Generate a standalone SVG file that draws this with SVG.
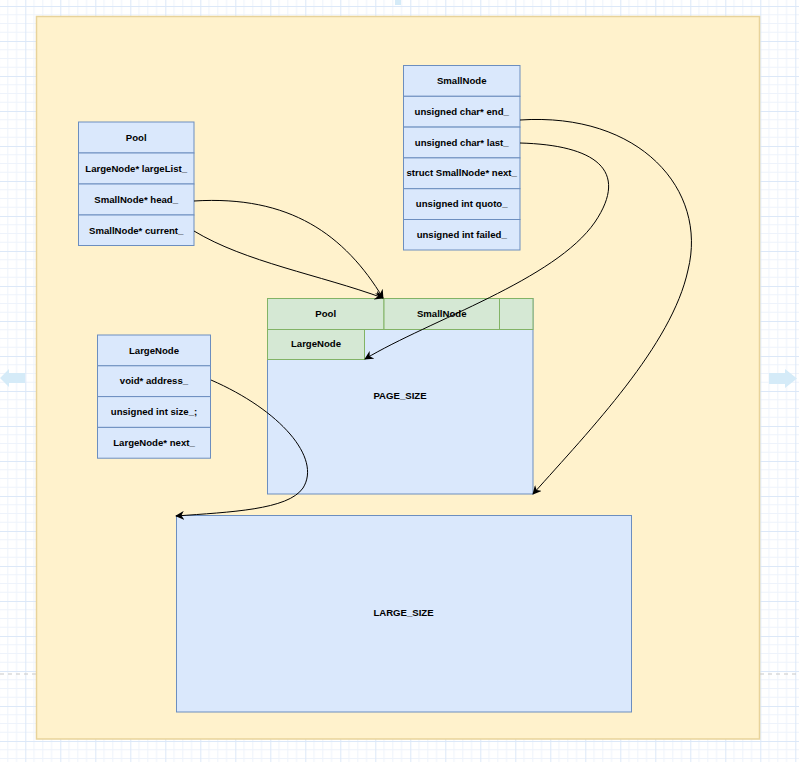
<svg xmlns="http://www.w3.org/2000/svg" width="799" height="762" viewBox="0 0 799 762">
<style>
.t{font-family:"Liberation Sans",Arial,sans-serif;font-size:9.6px;font-weight:bold;fill:#000;text-anchor:middle}
.b{fill:#dae8fc;stroke:#6c8ebf;stroke-width:1}
.g{fill:#d5e8d4;stroke:#82b366;stroke-width:1}
.e{fill:none;stroke:#000;stroke-width:1}
</style>
<defs>
<pattern id="grid" x="25.3" y="6" width="35" height="35" patternUnits="userSpaceOnUse">
<path d="M8.75 0V35M17.5 0V35M26.25 0V35M0 8.75H35M0 17.5H35M0 26.25H35" stroke="#eef3fb" stroke-width="1" fill="none"/>
<path d="M0.5 0V35M0 0.5H35" stroke="#dce8f8" stroke-width="1" fill="none"/>
</pattern>
<marker id="ah" viewBox="0 0 10 10" refX="9" refY="5" markerWidth="9" markerHeight="9" markerUnits="userSpaceOnUse" orient="auto">
<path d="M0 0L10 5L0 10L3 5Z" fill="#000"/>
</marker>
</defs>
<rect width="799" height="762" fill="#fff"/>
<rect width="799" height="762" fill="url(#grid)"/>
<g id="ui">
<path d="M0 674H37M760 674H799" stroke="#c8c8c8" stroke-dasharray="4 4"/>
<path d="M25 373H9V369L0 378L9 387V383H25Z" fill="#d5ebf8"/>
<path d="M769 373H785V369L797 378.5L785 388V384H769Z" fill="#d5ebf8"/>
<rect x="395" y="0" width="6" height="5" fill="#d5ebf8"/>
</g>
<g id="container">
<rect x="36.5" y="16.5" width="723" height="722.5" fill="#fff2cc" stroke="#e8d39a" stroke-width="1.5"/>
</g>
<g id="pool">
<rect class="b" x="78.5" y="122" width="115.5" height="31"/>
<rect class="b" x="78.5" y="153" width="115.5" height="31"/>
<rect class="b" x="78.5" y="184" width="115.5" height="31"/>
<rect class="b" x="78.5" y="215" width="115.5" height="30.5"/>
<text class="t" x="136.2" y="140.5">Pool</text>
<text class="t" x="136.2" y="171.5">LargeNode* largeList_</text>
<text class="t" x="136.2" y="202.5">SmallNode* head_</text>
<text class="t" x="136.2" y="233.5">SmallNode* current_</text>
</g>
<g id="smallnode">
<rect class="b" x="403.5" y="65.5" width="116.5" height="30.8"/>
<rect class="b" x="403.5" y="96.3" width="116.5" height="30.8"/>
<rect class="b" x="403.5" y="127.1" width="116.5" height="30.8"/>
<rect class="b" x="403.5" y="157.9" width="116.5" height="30.8"/>
<rect class="b" x="403.5" y="188.7" width="116.5" height="30.8"/>
<rect class="b" x="403.5" y="219.5" width="116.5" height="30.5"/>
<text class="t" x="461.7" y="84">SmallNode</text>
<text class="t" x="461.7" y="114.8">unsigned char* end_</text>
<text class="t" x="461.7" y="145.6">unsigned char* last_</text>
<text class="t" x="461.7" y="176.4">struct SmallNode* next_</text>
<text class="t" x="461.7" y="207.2">unsigned int quoto_</text>
<text class="t" x="461.7" y="238">unsigned int failed_</text>
</g>
<g id="largenode">
<rect class="b" x="97.5" y="335" width="113" height="30.8"/>
<rect class="b" x="97.5" y="365.8" width="113" height="30.8"/>
<rect class="b" x="97.5" y="396.6" width="113" height="30.8"/>
<rect class="b" x="97.5" y="427.4" width="113" height="30.8"/>
<text class="t" x="154" y="353.5">LargeNode</text>
<text class="t" x="154" y="384.3">void* address_</text>
<text class="t" x="154" y="415.1">unsigned int size_;</text>
<text class="t" x="154" y="445.9">LargeNode* next_</text>
</g>
<g id="page">
<rect class="b" x="267.5" y="298.5" width="265.5" height="195.5"/>
<text class="t" x="400" y="399">PAGE_SIZE</text>
</g>
<g id="page-pool">
<rect class="g" x="267.5" y="298.5" width="116.5" height="31"/>
<text class="t" x="325.7" y="317">Pool</text>
</g>
<g id="page-smallnode">
<rect class="g" x="384" y="298.5" width="115.5" height="31"/>
<text class="t" x="441.7" y="317">SmallNode</text>
</g>
<g id="page-extra">
<rect class="g" x="499.5" y="298.5" width="33.5" height="31"/>
</g>
<g id="page-largenode">
<rect class="g" x="267.5" y="329.5" width="97" height="30"/>
<text class="t" x="316" y="347">LargeNode</text>
</g>
<g id="large">
<rect class="b" x="176.5" y="515.5" width="455" height="196.5"/>
<text class="t" x="403.5" y="615.5">LARGE_SIZE</text>
</g>
<g id="connectors">
<path class="e" marker-end="url(#ah)" d="M194 201C290 195 345 235 383 298"/>
<path class="e" marker-end="url(#ah)" d="M194 231C245 262 320 275 383 298"/>
<path class="e" marker-end="url(#ah)" d="M520 143C595 145 630 170 595 222C555 280 430 320 365 359"/>
<path class="e" marker-end="url(#ah)" d="M520 120C640 112 708 190 688 270C672 345 590 430 533 494"/>
<path class="e" marker-end="url(#ah)" d="M211 380C280 410 322 458 303 488C288 510 230 512 176 516"/>
</g>
</svg>
